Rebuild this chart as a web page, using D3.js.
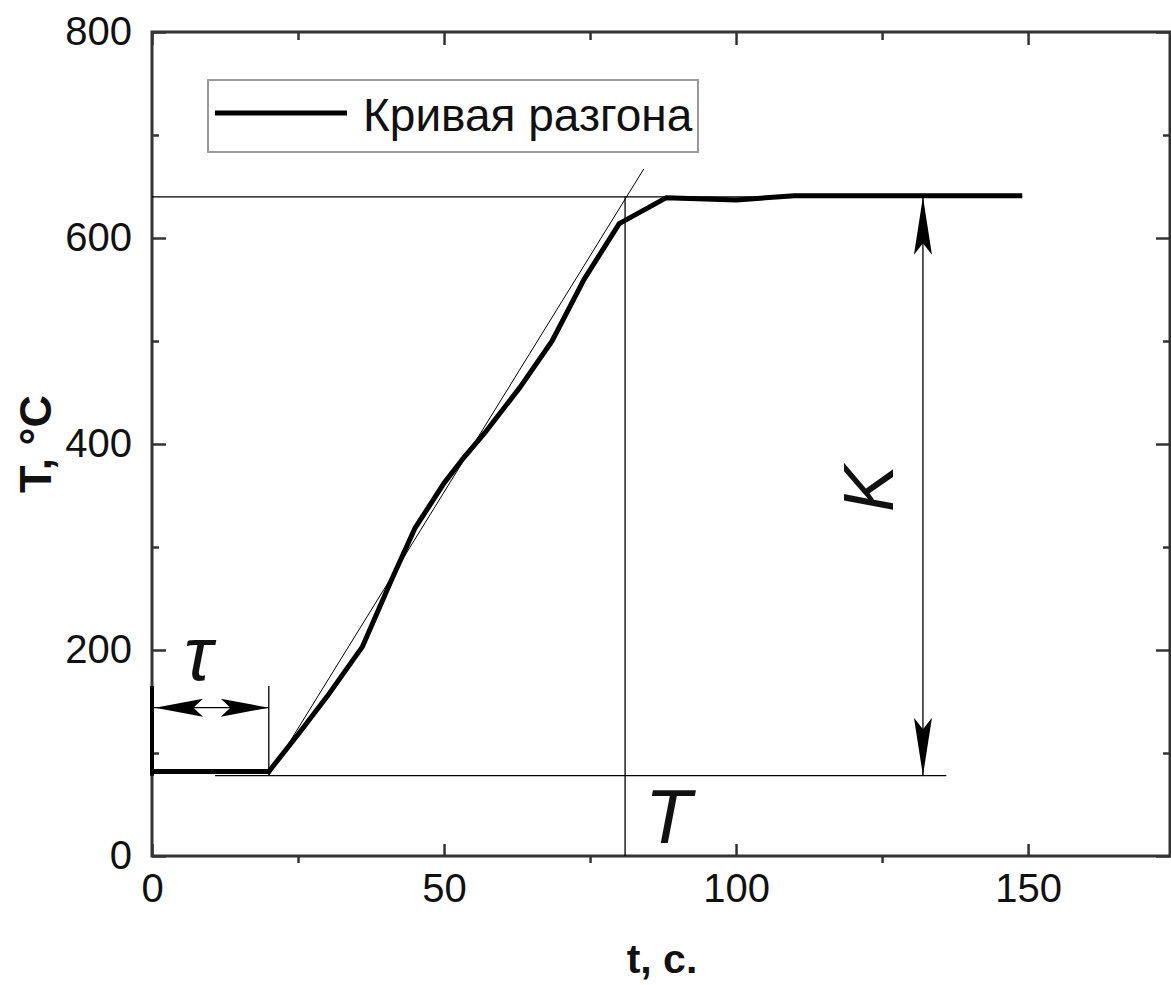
<!DOCTYPE html>
<html>
<head>
<meta charset="utf-8">
<script src="https://cdn.jsdelivr.net/npm/d3@7"></script>
<style>
  body { margin: 0; background: #fff; }
  text { font-family: "Liberation Sans", Arial, sans-serif; fill: #111; }
</style>
</head>
<body>
<svg id="chart" width="1171" height="985"></svg>
<script>
// Response curve data
const timeSec = [0, 10, 20, 25, 30, 36, 41, 45, 50, 53, 57, 63, 68.5, 74, 80, 88, 100, 110, 149];
const tempC = [82, 82, 82, 118, 155, 203, 268, 318, 362, 384, 411, 455, 500, 560, 614, 639, 637, 641, 641];

// Construction lines
const tangentTime = [20, 84.2];
const tangentTemp = [78, 667];
const steadyTemp = 640;
const baseTemp = 78;
const baseLineTime = [10.8, 136];
const lagTime = 20;        // tau
const constTime = 81;      // T
const gainTime = 132;      // K arrow position
const tauArrowTemp = 144;
const tauMarkTop = 165;

const xMajor = [0, 50, 100, 150];
const xMinor = [25, 75, 125];
const yMajor = [0, 200, 400, 600, 800];
const yMinor = [100, 300, 500, 700];

const legendLabel = "Кривая разгона";

const svg = d3.select('#chart');
const plotLeft = 152, plotRight = 1170, plotTop = 32, plotBottom = 856;

const x = d3.scaleLinear().domain([0, 174.3]).range([plotLeft, plotRight]);
const y = d3.scaleLinear().domain([0, 800]).range([plotBottom, plotTop]);

// axes: major ticks point inward, minor on the bottom point outward
function styleAxis(g) {
  g.select('.domain').remove();
  g.selectAll('line').attr('stroke', '#333').attr('stroke-width', 2.5);
  g.selectAll('text').attr('font-size', 40).attr('fill', '#222')
    .attr('font-family', '"Liberation Sans", Arial, sans-serif');
}

svg.append('g').attr('transform', `translate(0,${plotBottom})`)
  .call(d3.axisBottom(x).tickValues(xMajor).tickSize(-12).tickPadding(18).tickFormat(d3.format('d')))
  .call(styleAxis);
svg.append('g').attr('transform', `translate(0,${plotBottom})`)
  .call(d3.axisBottom(x).tickValues(xMinor).tickSize(7).tickFormat(''))
  .call(styleAxis);
svg.append('g').attr('transform', `translate(0,${plotTop})`)
  .call(d3.axisTop(x).tickValues(xMajor).tickSize(-13).tickFormat(''))
  .call(styleAxis);
svg.append('g').attr('transform', `translate(0,${plotTop})`)
  .call(d3.axisTop(x).tickValues(xMinor).tickSize(-8).tickFormat(''))
  .call(styleAxis);
svg.append('g').attr('transform', `translate(${plotLeft},0)`)
  .call(d3.axisLeft(y).tickValues(yMajor).tickSize(-14).tickPadding(20).tickFormat(d3.format('d')))
  .call(styleAxis);
svg.append('g').attr('transform', `translate(${plotLeft},0)`)
  .call(d3.axisLeft(y).tickValues(yMinor).tickSize(-7).tickFormat(''))
  .call(styleAxis);
svg.append('g').attr('transform', `translate(${plotRight},0)`)
  .call(d3.axisRight(y).tickValues(yMajor).tickSize(-14).tickFormat(''))
  .call(styleAxis);
svg.append('g').attr('transform', `translate(${plotRight},0)`)
  .call(d3.axisRight(y).tickValues(yMinor).tickSize(-7).tickFormat(''))
  .call(styleAxis);

// frame
svg.append('rect')
  .attr('x', plotLeft).attr('y', plotTop)
  .attr('width', plotRight - plotLeft).attr('height', plotBottom - plotTop)
  .attr('fill', 'none').attr('stroke', '#333').attr('stroke-width', 3);

// axis titles
svg.append('text')
  .attr('x', 662).attr('y', 973)
  .attr('text-anchor', 'middle')
  .attr('font-size', 41).attr('font-weight', 'bold')
  .text('t, c.');
svg.append('text')
  .attr('transform', 'translate(51,444) rotate(-90)')
  .attr('text-anchor', 'middle')
  .attr('font-size', 45).attr('font-weight', 'bold')
  .text('T, °C');

// thin construction lines
const thin = svg.append('g').attr('stroke', '#000').attr('stroke-width', 1.3).attr('fill', 'none');
thin.append('line')
  .attr('x1', x(0)).attr('x2', x(timeSec[timeSec.length - 1]))
  .attr('y1', y(steadyTemp)).attr('y2', y(steadyTemp));
thin.append('line')
  .attr('x1', x(baseLineTime[0])).attr('x2', x(baseLineTime[1]))
  .attr('y1', y(baseTemp)).attr('y2', y(baseTemp));
thin.append('line')
  .attr('x1', x(constTime)).attr('x2', x(constTime))
  .attr('y1', y(steadyTemp)).attr('y2', y(0));
thin.append('line')
  .attr('x1', x(tangentTime[0])).attr('x2', x(tangentTime[1]))
  .attr('y1', y(tangentTemp[0])).attr('y2', y(tangentTemp[1]))
  .attr('stroke-width', 1);
thin.append('line')
  .attr('x1', x(gainTime)).attr('x2', x(gainTime))
  .attr('y1', y(steadyTemp)).attr('y2', y(baseTemp));
thin.append('line')
  .attr('x1', x(lagTime)).attr('x2', x(lagTime))
  .attr('y1', y(tauMarkTop)).attr('y2', y(baseTemp));
thin.append('line')
  .attr('x1', x(0)).attr('x2', x(0))
  .attr('y1', y(tauMarkTop)).attr('y2', y(baseTemp))
  .attr('stroke-width', 4);
thin.append('line')
  .attr('x1', x(0)).attr('x2', x(lagTime))
  .attr('y1', y(tauArrowTemp)).attr('y2', y(tauArrowTemp));

// arrowheads: long narrow notched triangles, angle in degrees (0 = pointing right)
function arrow(px, py, angle, len, half) {
  const p = `M0,0 L${-len},${-half} L${-len * 0.8},0 L${-len},${half} Z`;
  svg.append('path')
    .attr('d', p)
    .attr('transform', `translate(${px},${py}) rotate(${angle})`)
    .attr('fill', '#000');
}
arrow(x(gainTime), y(steadyTemp), -90, 58, 9);
arrow(x(gainTime), y(baseTemp), 90, 58, 9);
arrow(x(0) + 3, y(tauArrowTemp), 180, 48, 9);
arrow(x(lagTime), y(tauArrowTemp), 0, 48, 9);

// response curve
const line = d3.line()
  .x(d => x(d[0]))
  .y(d => y(d[1]));
svg.append('path')
  .datum(d3.zip(timeSec, tempC))
  .attr('d', line)
  .attr('fill', 'none')
  .attr('stroke', '#000')
  .attr('stroke-width', 5)
  .attr('stroke-linejoin', 'round');

// handwritten-style labels
svg.append('text')
  .attr('x', x(5.5)).attr('y', 680)
  .attr('font-family', '"Liberation Serif", serif')
  .attr('font-style', 'italic')
  .attr('font-size', 76)
  .attr('fill', '#000')
  .text('τ');
svg.append('text')
  .attr('x', 645).attr('y', 843)
  .attr('font-family', '"Liberation Serif", serif')
  .attr('font-style', 'italic')
  .attr('font-size', 76)
  .attr('fill', '#000')
  .text('T');
svg.append('text')
  .attr('transform', 'translate(893,512) rotate(-90)')
  .attr('font-family', '"Liberation Serif", serif')
  .attr('font-style', 'italic')
  .attr('font-size', 70)
  .attr('fill', '#000')
  .text('K');

// legend
const legend = svg.append('g');
legend.append('rect')
  .attr('x', 208).attr('y', 80)
  .attr('width', 490).attr('height', 72)
  .attr('fill', '#fff')
  .attr('stroke', '#999').attr('stroke-width', 2);
legend.append('line')
  .attr('x1', 215).attr('x2', 347)
  .attr('y1', 113).attr('y2', 113)
  .attr('stroke', '#000').attr('stroke-width', 5);
legend.append('text')
  .attr('x', 363).attr('y', 131)
  .attr('font-size', 46)
  .text(legendLabel);
</script>
</body>
</html>
